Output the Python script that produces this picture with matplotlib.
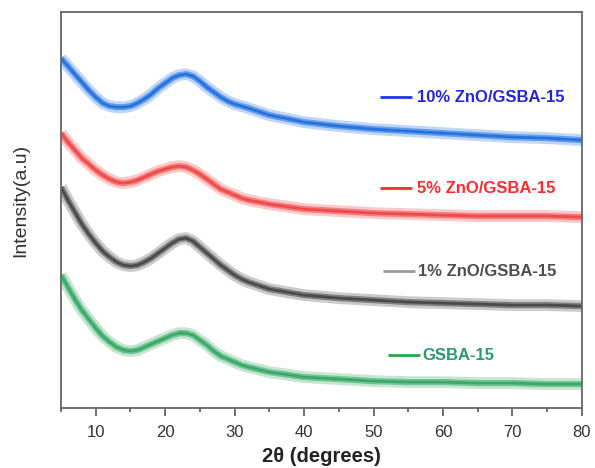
import matplotlib
matplotlib.use("Agg")
import matplotlib.pyplot as plt
from matplotlib.ticker import MultipleLocator

plt.rcParams['font.family'] = ['Liberation Sans', 'DejaVu Sans']

two_theta = [5, 6, 7, 8, 9, 10, 11, 12, 13, 14, 15, 16, 17, 18, 19, 20, 21, 22, 23,
             24, 25, 26, 27, 28, 29, 30, 31, 32, 35, 40, 45, 50, 55, 60, 65, 70, 75, 80]
zno10 = [350, 342, 334, 326, 318, 311, 305, 302, 301, 301, 302, 305, 309, 314, 320,
         325, 330, 333, 334, 332, 327, 321, 316, 311, 307, 304, 302, 300, 293, 286,
         282, 279, 277, 275, 273, 271, 270, 268]
zno5 = [275, 266, 258, 250, 244, 238, 233, 229, 226, 225, 226, 228, 231, 234, 237,
        239, 241, 242, 241, 238, 234, 229, 224, 219, 216, 213, 210, 208, 204, 199,
        197, 195, 194, 193, 192, 192, 192, 191]
zno1 = [221, 208, 196, 184, 174, 165, 157, 151, 146, 143, 142, 143, 146, 150, 155,
        160, 165, 169, 170, 167, 161, 155, 149, 143, 138, 133, 129, 126, 119, 113,
        110, 108, 106, 105, 104, 103, 103, 102]
gsba = [133, 121, 109, 98, 89, 80, 72, 66, 61, 58, 57, 58, 61, 64, 67, 70, 73, 75,
        75, 73, 68, 63, 57, 52, 49, 46, 43, 41, 36, 31, 29, 27, 26, 26, 25, 25, 24, 24]

labels = ['10% ZnO/GSBA-15', '5% ZnO/GSBA-15', '1% ZnO/GSBA-15', 'GSBA-15']
series = [zno10, zno5, zno1, gsba]
curve_colors = ['#1f6fe0', '#f04444', '#454545', '#35a864']
key_colors = ['#2233ee', '#ff2a2a', '#9a9a9a', '#22a848']
text_colors = ['#2424dd', '#ff2a2a', '#4d4d4d', '#2a9a6a']

fig = plt.figure(figsize=(5.95, 4.68), dpi=100)
ax = fig.add_axes([0.1025, 0.128, 0.8755, 0.846])

for y, c in zip(series, curve_colors):
    ax.plot(two_theta, y, color=c, lw=8.5, alpha=0.28, solid_joinstyle='round',
            solid_capstyle='butt')
    ax.plot(two_theta, y, color=c, lw=4.5, alpha=0.55, solid_joinstyle='round',
            solid_capstyle='butt')
    ax.plot(two_theta, y, color=c, lw=2.0, alpha=0.9, solid_joinstyle='round',
            solid_capstyle='butt')

# legend-like keys
key_pos = [(50.9, 55.5, 56.2, 311), (50.9, 55.5, 56.2, 220),
           (51.35, 55.96, 56.4, 137), (52.07, 56.68, 57.1, 53)]
for (x0, x1, xt, yk), lab, kc, tc in zip(key_pos, labels, key_colors, text_colors):
    ax.plot([x0, x1], [yk, yk], color=kc, lw=2.0, solid_capstyle='butt')
    ax.text(xt, yk, lab, color=tc, fontsize=12, fontweight='bold', va='center', ha='left')

ax.set_xlim(5, 80)
ax.set_ylim(0, 396)
ax.set_yticks([])
ax.xaxis.set_major_locator(MultipleLocator(10))
ax.xaxis.set_minor_locator(MultipleLocator(5))
ax.tick_params(axis='x', which='major', length=6, width=1.2, color='#555555',
               labelsize=12, labelcolor='#333333', pad=6)
ax.tick_params(axis='x', which='minor', length=3, width=1.2, color='#555555')
for s in ax.spines.values():
    s.set_color('#666666')
    s.set_linewidth(1.3)

ax.set_xlabel('2θ (degrees)', fontsize=14.5, fontweight='bold', color='#222222')
ax.xaxis.set_label_coords(0.5, -0.121)
ax.xaxis.label.set_va('center')
ax.set_ylabel('Intensity(a.u)', fontsize=14, color='#333333')
ax.yaxis.set_label_coords(-0.077, 0.525)
ax.yaxis.label.set_va('center')

fig.savefig('out.png', dpi=100)
